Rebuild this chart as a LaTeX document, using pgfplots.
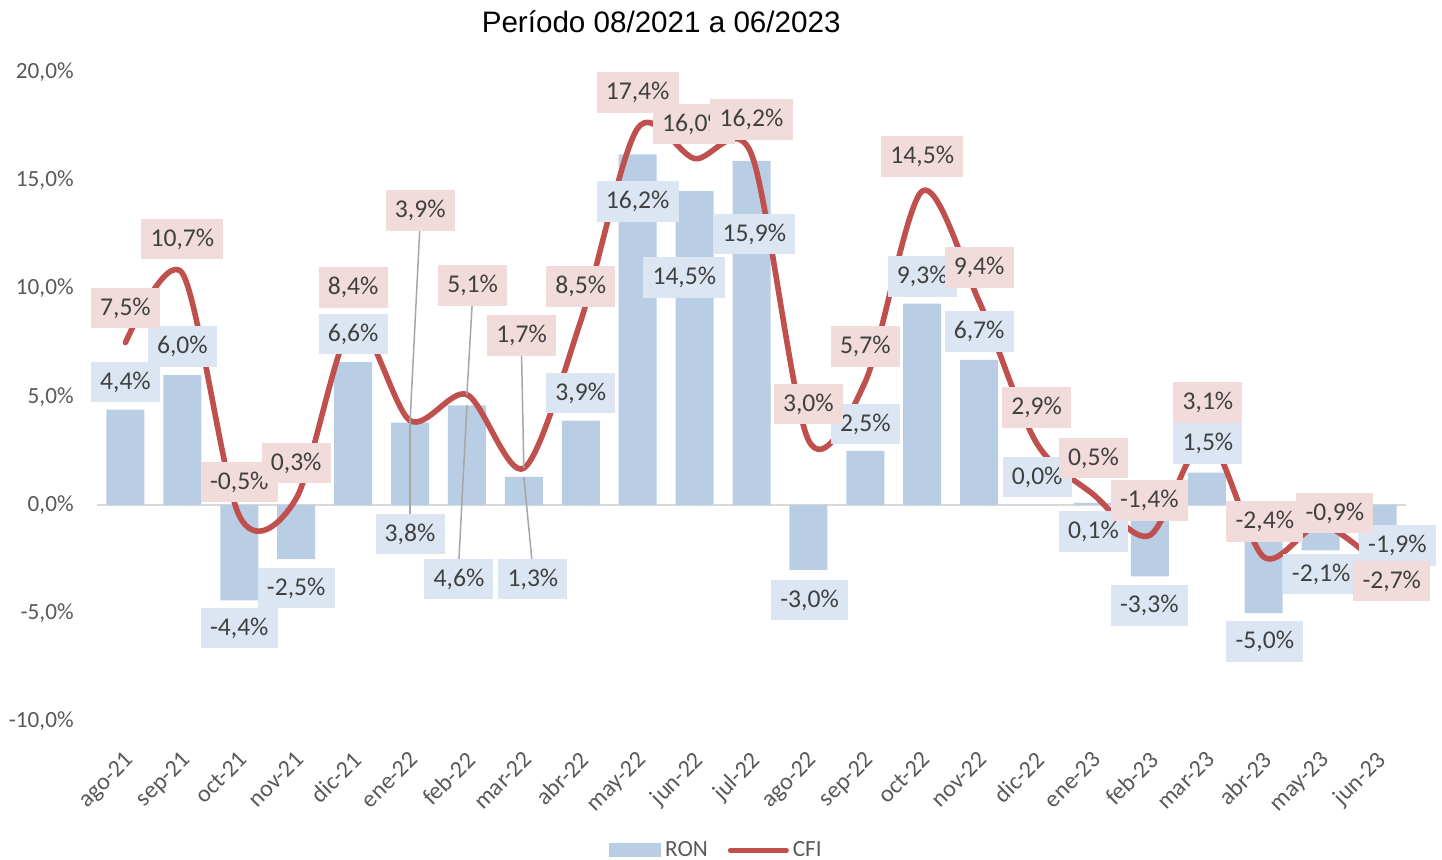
\documentclass[border=0pt]{standalone}
\usepackage{pgfplots}
\pgfplotsset{compat=1.18}
\usepackage{pgfplotstable}
\usepackage{fontspec}
\setmainfont{Carlito}
\newfontfamily\titlefont{Liberation Sans}
\definecolor{ronblue}{HTML}{B9CDE5}
\definecolor{cfired}{HTML}{C0504D}
\definecolor{ronlab}{HTML}{DCE6F2}
\definecolor{cfilab}{HTML}{F2DCDB}
\definecolor{labtext}{HTML}{404040}
\definecolor{ticktext}{HTML}{595959}
\definecolor{leader}{HTML}{A6A6A6}
\definecolor{zeroline}{HTML}{D9D9D9}

\pgfplotstableread{
x ron cfi
0 4.4 7.5
1 6.0 10.7
2 -4.4 -0.5
3 -2.5 0.3
4 6.6 8.4
5 3.8 3.9
6 4.6 5.1
7 1.3 1.7
8 3.9 8.5
9 16.2 17.4
10 14.5 16.0
11 15.9 16.2
12 -3.0 3.0
13 2.5 5.7
14 9.3 14.5
15 6.7 9.4
16 0.0 2.9
17 0.1 0.5
18 -3.3 -1.4
19 1.5 3.1
20 -5.0 -2.4
21 -2.1 -0.9
22 -1.9 -2.7
}\maindata

% label positions (x, y in axis units) and value shown
\pgfplotstableread{
x y v
0 5.68 4.4
1 7.32 6.0
2 -5.68 -4.4
3 -3.83 -2.5
4 7.9 6.6
5.0 -1.34 3.8
5.86 -3.42 4.6
7.16 -3.42 1.3
8.0 5.17 3.9
9.0 14.02 16.2
9.82 10.5 14.5
11.05 12.52 15.9
12.02 -4.39 -3.0
13.0 3.74 2.5
14.0 10.55 9.3
15.0 8.0 6.7
16.02 1.29 0.0
17.01 -1.22 0.1
17.99 -4.64 -3.3
19.02 2.84 1.5
20.02 -6.3 -5.0
21.01 -3.19 -2.1
22.35 -1.87 -1.9
}\ronlabels

\pgfplotstableread{
x y v
0 9.1 7.5
1 12.29 10.7
2 1.06 -0.5
3 1.94 0.3
4 10.05 8.4
5.18 13.6 3.9
6.1 10.14 5.1
6.96 7.83 1.7
8.0 10.09 8.5
9.0 19.05 17.4
9.99 17.6 16.0
11.0 17.8 16.2
12.0 4.66 3.0
13.0 7.32 5.7
14.0 16.1 14.5
15.0 10.97 9.4
16.01 4.5 2.9
17.01 2.17 0.5
17.99 0.21 -1.4
19.02 4.73 3.1
20.02 -0.76 -2.4
21.25 -0.37 -0.9
22.25 -3.51 -2.7
}\cfilabels

\begin{document}
\begin{tikzpicture}
\begin{axis}[
  scale only axis,
  width=654.5pt, height=324.75pt,
  xmin=-0.5, xmax=22.5, ymin=-10, ymax=20,
  clip=false,
  axis line style={draw=none},
  major tick length=0pt,
  xtick={0,...,22},
  xticklabels={ago-21,sep-21,oct-21,nov-21,dic-21,ene-22,feb-22,mar-22,abr-22,may-22,jun-22,jul-22,ago-22,sep-22,oct-22,nov-22,dic-22,ene-23,feb-23,mar-23,abr-23,may-23,jun-23},
  xticklabel style={xshift=-1pt, yshift=-14pt, rotate=45, anchor=north east, inner sep=0pt, font=\fontsize{12}{14}\selectfont, text=ticktext},
  ytick={-10,-5,0,5,10,15,20},
  yticklabel={\pgfmathprintnumber[fixed,fixed zerofill,precision=1,use comma,assume math mode=true]{\tick}\%},
  yticklabel style={anchor=east, inner sep=0pt, xshift=-11.5pt, font=\fontsize{11.6}{13}\selectfont, text=ticktext},
  title={Período 08/2021 a 06/2023},
  title style={at={(0.431,1.077)}, anchor=center, yshift=-6pt, font=\titlefont\fontsize{14.8}{17}\selectfont, text=black},
  legend style={at={(0.474,-0.198)}, anchor=center, draw=none, fill=none, legend columns=2,
    font=\fontsize{11.6}{13}\selectfont, text=ticktext,
    /tikz/every even column/.append style={column sep=8pt}},
]
\addplot[forget plot, draw=zeroline, line width=0.75pt] coordinates {(-0.5,0) (22.5,0)};

\addplot[ybar, bar width=19pt, fill=ronblue, draw=none,
  legend image code/.code={\fill[ronblue] (0pt,-3.5pt) rectangle (26pt,3.5pt);}]
  table[x=x, y=ron]{\maindata};
\addlegendentry{RON}

\addplot[cfired, line width=2.8pt, smooth, tension=0.5, line cap=round, line join=round,
  legend image code/.code={\draw[cfired, line width=2.5pt, line cap=round] (0pt,0pt) -- (28pt,0pt);}]
  table[x=x, y=cfi]{\maindata};
\addlegendentry{CFI}

% leader lines
\addplot[forget plot, leader, line width=0.75pt] coordinates {(5.17,12.66) (5.0,3.8)};
\addplot[forget plot, leader, line width=0.75pt] coordinates {(5.0,-0.42) (5.0,3.8)};
\addplot[forget plot, leader, line width=0.75pt] coordinates {(6.09,9.2) (6.0,5.1)};
\addplot[forget plot, leader, line width=0.75pt] coordinates {(5.86,-2.5) (6.0,4.6)};
\addplot[forget plot, leader, line width=0.75pt] coordinates {(6.96,6.9) (7.0,1.7)};
\addplot[forget plot, leader, line width=0.75pt] coordinates {(7.14,-2.5) (7.0,1.3)};

% data labels
\addplot[forget plot, draw=none, point meta=explicit,
  nodes near coords={\pgfmathprintnumber[fixed,fixed zerofill,precision=1,use comma,assume math mode=true]{\pgfplotspointmeta}\%},
  nodes near coords style={anchor=center, fill=ronlab, text=labtext, font=\fontsize{12.8}{14}\selectfont,
    inner xsep=4.6pt, inner ysep=0pt, minimum height=20.3pt}]
  table[x=x, y=y, meta=v]{\ronlabels};
\addplot[forget plot, draw=none, point meta=explicit,
  nodes near coords={\pgfmathprintnumber[fixed,fixed zerofill,precision=1,use comma,assume math mode=true]{\pgfplotspointmeta}\%},
  nodes near coords style={anchor=center, fill=cfilab, text=labtext, font=\fontsize{12.8}{14}\selectfont,
    inner xsep=4.6pt, inner ysep=0pt, minimum height=20.3pt}]
  table[x=x, y=y, meta=v]{\cfilabels};
\end{axis}
\pgfresetboundingbox
\useasboundingbox (-48.5pt,-69.25pt) rectangle (672.5pt,360.75pt);
\end{tikzpicture}
\end{document}
